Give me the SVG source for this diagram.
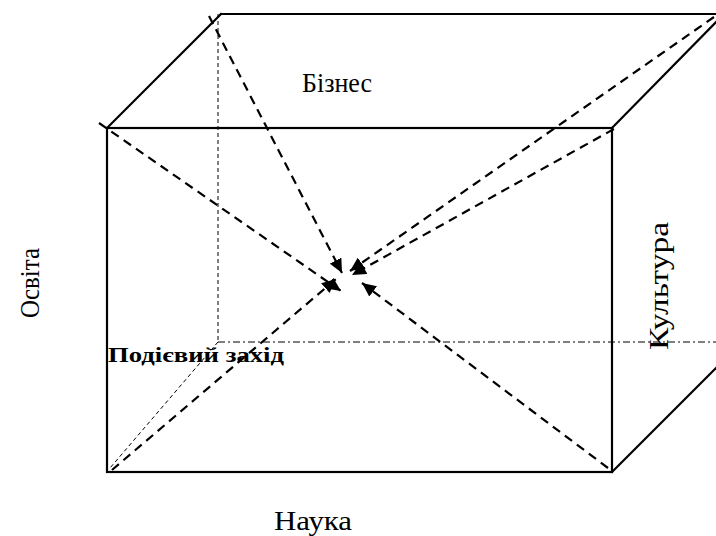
<svg xmlns="http://www.w3.org/2000/svg" width="716" height="536" viewBox="0 0 716 536">
<style>
.edge{fill:none;stroke:#000;stroke-width:2.2;stroke-linecap:square}
.hid{fill:none;stroke:#000;stroke-width:1;stroke-dasharray:4 3}
.dd{fill:none;stroke:#000;stroke-width:1;stroke-dasharray:7 3 2 3}
.arr{fill:none;stroke:#000;stroke-width:2.2;stroke-dasharray:9 6;marker-end:url(#ah)}
.lbl{font-family:"Liberation Serif","Times New Roman",serif;font-size:27px;fill:#000}
.bold{font-family:"Liberation Serif","Times New Roman",serif;font-size:22px;font-weight:bold;fill:#000}
</style>
<defs>
<marker id="ah" markerUnits="userSpaceOnUse" markerWidth="15" markerHeight="13" refX="14" refY="6.5" orient="auto">
<path d="M0,0 L14,6.5 L0,13 z" fill="#000"/>
</marker>
</defs>
<g id="box">
<rect class="edge" x="107" y="128" width="505" height="344"/>
<line class="edge" x1="107" y1="128" x2="221" y2="14"/>
<line class="edge" x1="221" y1="14" x2="716" y2="14"/>
<line class="edge" x1="612" y1="128" x2="722" y2="16"/>
<line class="edge" x1="612" y1="472" x2="718" y2="366"/>
</g>
<g id="hidden">
<line class="hid" x1="218" y1="14" x2="218" y2="342"/>
<line class="dd" x1="218" y1="342" x2="716" y2="342"/>
<line class="hid" x1="218" y1="342" x2="110" y2="468"/>
</g>
<g id="connectors">
<line class="arr" x1="209" y1="16" x2="342" y2="273"/>
<line class="arr" x1="714" y1="17" x2="350" y2="271"/>
<line class="arr" x1="614" y1="129" x2="352" y2="275"/>
<line class="arr" x1="99" y1="123" x2="341" y2="291"/>
<line class="arr" x1="112" y1="470" x2="336" y2="279"/>
<line class="arr" x1="608" y1="468" x2="362" y2="283"/>
</g>
<g id="label-biznes"><text class="lbl" x="302" y="92" textLength="70" lengthAdjust="spacingAndGlyphs">Бізнес</text></g>
<g id="label-nauka"><text class="lbl" x="274" y="530" textLength="78" lengthAdjust="spacingAndGlyphs">Наука</text></g>
<g id="label-osvita"><text class="lbl" transform="translate(39,318) rotate(-90)" textLength="70" lengthAdjust="spacingAndGlyphs">Освіта</text></g>
<g id="label-kultura"><text class="lbl" transform="translate(668,350) rotate(-90)" textLength="128" lengthAdjust="spacingAndGlyphs">Культура</text></g>
<g id="label-event"><text class="bold" x="108" y="362" textLength="176" lengthAdjust="spacingAndGlyphs">Подієвий захід</text></g>
</svg>
